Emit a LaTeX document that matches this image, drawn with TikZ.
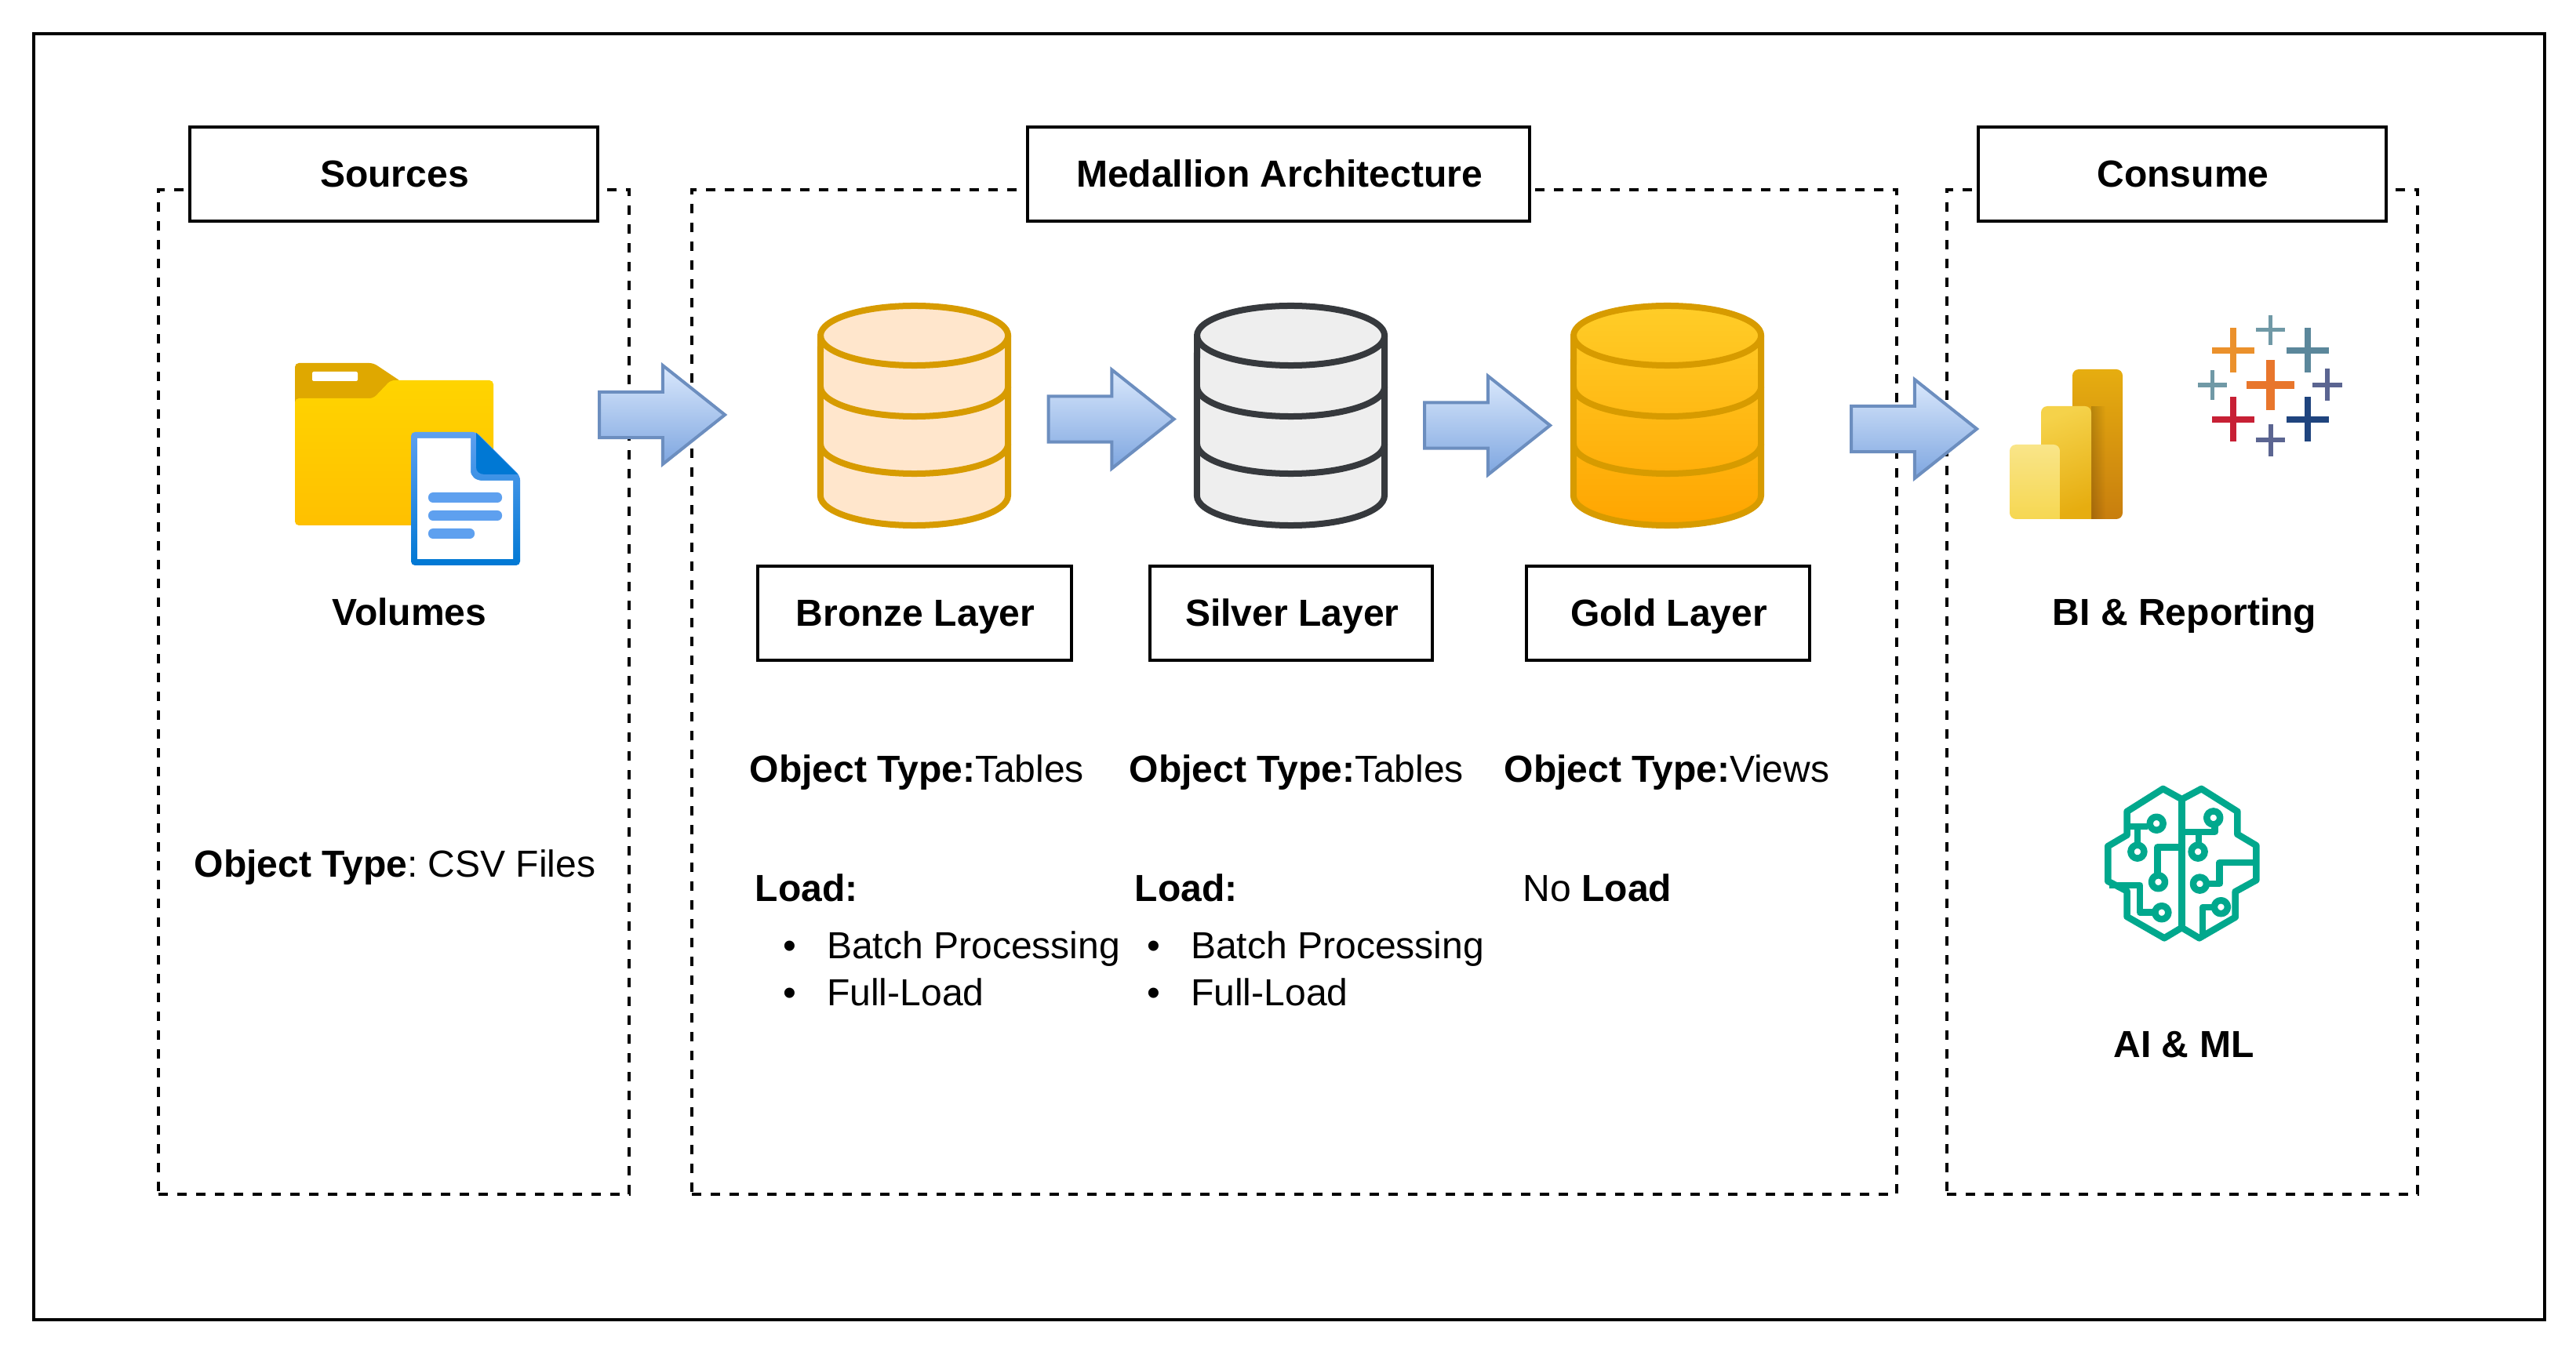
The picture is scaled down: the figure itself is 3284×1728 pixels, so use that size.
\documentclass[tikz,border=0pt]{standalone}
\usepackage{fontspec}
\setmainfont{Liberation Sans}
\usetikzlibrary{shapes.arrows,fadings}

\newcommand{\diagfont}{\fontsize{13.66pt}{16pt}\selectfont}

\definecolor{bronzefill}{HTML}{FFE6CC}
\definecolor{dbline}{HTML}{D79B00}
\definecolor{silverfill}{HTML}{EEEEEE}
\definecolor{silverline}{HTML}{36393D}
\definecolor{goldtop}{HTML}{FFCD28}
\definecolor{goldbot}{HTML}{FFA500}
\definecolor{arrowline}{HTML}{6C8EBF}
\definecolor{arrowtop}{HTML}{DAE8FC}
\definecolor{arrowbot}{HTML}{7EA6E0}
\definecolor{foldertop}{HTML}{FFD400}
\definecolor{folderbot}{HTML}{FFC000}
\definecolor{foldertab}{HTML}{DFA800}
\definecolor{doclight}{HTML}{5EA0EF}
\definecolor{docdark}{HTML}{0078D4}
\definecolor{brain}{HTML}{01A88D}
\definecolor{tabteal}{HTML}{7099A6}
\definecolor{tabblue}{HTML}{5B879B}
\definecolor{tabamber}{HTML}{EB912C}
\definecolor{taborange}{HTML}{E8762C}
\definecolor{tabpurple}{HTML}{5B6591}
\definecolor{tabred}{HTML}{C72035}
\definecolor{tabnavy}{HTML}{1F447E}
\definecolor{pbidarktop}{HTML}{E6AD10}
\definecolor{pbidarkbot}{HTML}{C87E0E}
\definecolor{pbimidtop}{HTML}{F5D24A}
\definecolor{pbilighttop}{HTML}{F9E589}
\definecolor{pbilightbot}{HTML}{F6D751}

\begin{document}
\begin{tikzpicture}[x=0.01cm, y=-0.01cm,
  framebox/.style={rectangle, draw, line width=.04cm, anchor=north west, inner sep=0pt, outer sep=0pt},
  groupbox/.style={rectangle, draw, line width=.04cm, dash pattern=on .12cm off .12cm, anchor=north west, inner sep=0pt, outer sep=0pt, minimum height=12.80cm},
  titlebox/.style={rectangle, draw, fill=white, line width=.04cm, minimum height=1.20cm, inner sep=0pt, text height=.44cm, text depth=.11cm, font=\diagfont\bfseries, execute at begin node={\hspace*{.02cm}}},
  layerbox/.style={titlebox, minimum width=3.60cm, node distance=4.80cm},
  txt/.style={anchor=base west, inner sep=0pt, font=\diagfont},
  ctxt/.style={anchor=base, inner sep=0pt, font=\diagfont\bfseries},
  blockarrow/.style={single arrow, draw=arrowline, line width=.04cm, top color=arrowtop, bottom color=arrowbot, anchor=tail, inner sep=0pt, outer sep=0pt, minimum height=1.60cm, text height=.39cm, minimum width=1.26cm, single arrow tip angle=77},
  bronzedb/.style={draw=dbline, fill=bronzefill},
  silverdb/.style={draw=silverline, fill=silverfill},
  golddb/.style={draw=dbline, top color=goldtop, bottom color=goldbot},
  dbring/.style={line width=.08cm, x radius=1.195cm, y radius=.38cm},
  brainline/.style={draw=brain, line width=.085cm, line join=round}]

  \useasboundingbox (0,0) rectangle (3284,1728);

  % frame and the three groups
  \node[framebox, minimum width=31.99cm, minimum height=16.39cm] (frame) at (43,43) {};
  \node[groupbox, minimum width=6.00cm] (srcgroup) at (202,242) {};
  \node[groupbox, minimum width=15.35cm] (medgroup) at (882,242) {};
  \node[groupbox, minimum width=6.00cm] (congroup) at (2482,242) {};

  \node[titlebox, minimum width=5.20cm] (srctitle) at (502,222) {Sources};
  \node[titlebox, minimum width=6.40cm] (medtitle) at (1630,222) {Medallion Architecture};
  \node[titlebox, minimum width=5.20cm] (contitle) at (2782,222) {Consume};

  % folder
  \fill[foldertab, rounded corners=.05cm] (376,463) -- (476,463) -- (512,487) -- (512,525) -- (376,525) -- cycle;
  \fill[white, rounded corners=.02cm] (398,474) rectangle (456,486);
  \path[top color=foldertop, bottom color=folderbot, rounded corners=.05cm] (376,508) -- (476,508) -- (498,485) -- (629,485) -- (629,670) -- (376,670) -- cycle;
  % document
  \path[top color=doclight, bottom color=docdark, rounded corners=.05cm] (524,551) -- (607,551) -- (663,607) -- (663,721) -- (524,721) -- cycle;
  \fill[white] (532,559) -- (600,559) -- (600,600) .. controls (600,608) and (606,613) .. (616,613) -- (654,613) -- (654,713) -- (532,713) -- cycle;
  \fill[docdark] (607,552) -- (660,605) -- (618,605) .. controls (611,605) and (607,601) .. (607,596) -- cycle;
  \foreach \ly/\lx in {628/640, 651/640, 674/605}
    \fill[doclight, rounded corners=.06cm] (546,\ly) rectangle (\lx,\ly+13);

  \node[ctxt] (volumes) at (522,798) {Volumes};
  \node[txt] (srctype) at (247,1118) {\textbf{Object Type}:\ CSV Files};

  % the three database stacks
  \foreach \cx/\dbstyle/\ringcol in {1165.5/bronzedb/dbline, 1645.5/silverdb/silverline, 2125.5/golddb/dbline} {
    \path[\dbstyle, dbring] ({\cx-119.5},428) arc[start angle=180, end angle=0] -- ({\cx+119.5},632) arc[start angle=0, end angle=-180] -- cycle;
    \foreach \ry in {428, 493, 566}
      \draw[\ringcol, dbring] ({\cx-119.5},\ry) arc[start angle=180, end angle=360];
  }

  \node[layerbox, minimum width=4.00cm] (bronzelabel) at (1166,782) {Bronze Layer};
  \node[layerbox, right of=bronzelabel] (silverlabel) {Silver Layer};
  \node[layerbox, right of=silverlabel] (goldlabel) {Gold Layer};

  \node[txt] (bronzetype) at (955,997) {\textbf{Object Type:}Tables};
  \node[txt] (silvertype) at (1439,997) {\textbf{Object Type:}Tables};
  \node[txt] (goldtype) at (1917,997) {\textbf{Object Type:}Views};

  \node[txt] (bronzeload) at (962,1149) {\textbf{Load:}};
  \node[txt] (silverload) at (1446,1149) {\textbf{Load:}};
  \node[txt] (goldload) at (1941,1149) {No \textbf{Load}};

  \node[txt] (bronzebatch) at (998,1222) {\makebox[.555cm][l]{\textbullet}Batch Processing};
  \node[txt] (bronzefull) at (998,1282) {\makebox[.555cm][l]{\textbullet}Full-Load};
  \node[txt] (silverbatch) at (1462,1222) {\makebox[.555cm][l]{\textbullet}Batch Processing};
  \node[txt] (silverfull) at (1462,1282) {\makebox[.555cm][l]{\textbullet}Full-Load};

  % block arrows
  \node[blockarrow] (srcarrow) at (764,529) {};
  \node[blockarrow] (silverarrow) at (1336.5,534.5) {};
  \node[blockarrow] (goldarrow) at (1816,542.5) {};
  \node[blockarrow] (conarrow) at (2360,547) {};

  % power bi bars
  \path[top color=pbidarktop, bottom color=pbidarkbot, rounded corners=.08cm] (2642,471) rectangle (2706,662);
  \fill[black, opacity=.18, path fading=east] (2666,518) rectangle (2684,662);
  \path[top color=pbimidtop, bottom color=pbidarktop, shading angle=20] (2602,662) [rounded corners=.08cm] -- (2602,518) -- (2666,518) [sharp corners] -- (2666,662) -- cycle;
  \path[top color=pbilighttop, bottom color=pbilightbot] (2626,662) [rounded corners=.08cm] -- (2562,662) -- (2562,567) -- (2626,567) [sharp corners] -- cycle;

  % tableau crosses
  \foreach \px/\py/\hx/\hy/\thk/\crosscol in {2846.8/446.7/27/28.7/7.8/tabamber, 2894.5/420.7/18.2/19/5.3/tabteal, 2941.7/446.7/27/28.7/7.8/tabblue, 2820.3/491/18.2/19/5.3/tabteal, 2894.5/491/30.5/32/10.7/taborange, 2967/491/19/20.5/6/tabpurple, 2846.8/534.7/27/28.7/7.8/tabred, 2941.7/534.7/27/28.7/7.8/tabnavy, 2894.5/561.3/18.8/20.5/6/tabpurple} {
    \fill[\crosscol] ({\px-\hx},{\py-\thk/2}) rectangle ({\px+\hx},{\py+\thk/2});
    \fill[\crosscol] ({\px-\thk/2},{\py-\hy}) rectangle ({\px+\thk/2},{\py+\hy});
  }

  \node[ctxt] (bilabel) at (2785,798) {BI \& Reporting};

  % brain
  \begin{scope}[shift={(2650,980)}, x=0.00333cm, y=-0.00333cm]
    \draw[brainline] (395,118) -- (323,78) -- (185,165) -- (185,255) -- (112,298) -- (112,432) -- (185,470) -- (185,568) -- (328,650) -- (395,610) -- (462,650) -- (600,570) -- (600,472) -- (680,428) -- (680,295) -- (608,252) -- (608,165) -- (470,78) -- cycle;
    \draw[brainline] (395,118) -- (395,610);
    \draw[brainline] (185,222) -- (265,222);
    \draw[brainline] (225,222) -- (225,290);
    \draw[brainline] (395,302) -- (302,302) -- (302,405);
    \draw[brainline] (118,447) -- (235,447) -- (235,552) -- (285,552);
    \draw[brainline] (395,243) -- (522,243) -- (522,215);
    \draw[brainline] (460,243) -- (460,290);
    \draw[brainline] (680,360) -- (540,360) -- (540,442) -- (495,442);
    \draw[brainline] (475,640) -- (475,532) -- (515,532);
    \foreach \rx/\ry in {298/211, 225/319, 305/435, 318/552, 516/189, 457/319, 464/442, 545/531}
      \draw[brainline, fill=white] (\rx,\ry) circle[radius=.085cm];
  \end{scope}

  \node[ctxt] (ailabel) at (2784,1348) {AI \& ML};

\end{tikzpicture}
\end{document}
